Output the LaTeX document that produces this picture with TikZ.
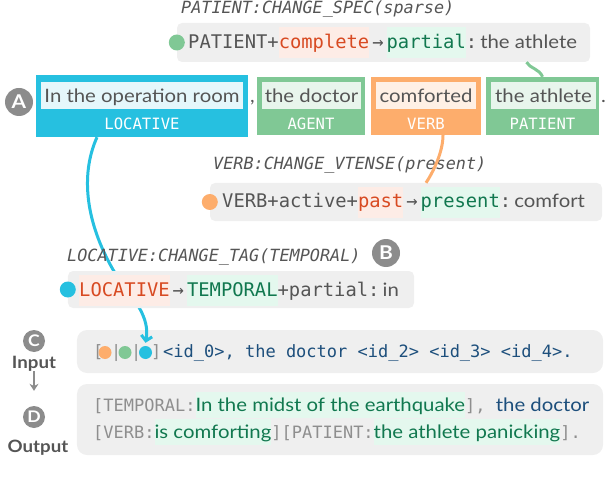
\documentclass[tikz,border=0pt]{standalone}
\usepackage{fontspec}
\setmainfont{Lato}[FakeStretch=1.1]
\setmonofont{DejaVu Sans Mono}
\usetikzlibrary{arrows.meta}

\definecolor{loccol}{HTML}{26C0E0}
\definecolor{agtcol}{HTML}{80C895}
\definecolor{vrbcol}{HTML}{FDAD6C}
\definecolor{boxgray}{HTML}{EFEFEF}
\definecolor{txtgray}{HTML}{555555}
\definecolor{taggray}{HTML}{8E8E8E}
\definecolor{badgegray}{HTML}{8C8C8C}
\definecolor{delred}{HTML}{D84A22}
\definecolor{delbg}{HTML}{FDECE6}
\definecolor{addgreen}{HTML}{11784F}
\definecolor{addbg}{HTML}{E4F8EE}
\definecolor{idblue}{HTML}{1D4F7C}

\newcommand{\hldel}[1]{{\setlength{\fboxsep}{0pt}\colorbox{delbg}{\rule[-10bp]{0pt}{31bp}\textcolor{delred}{#1}}}}
\newcommand{\hladd}[1]{{\setlength{\fboxsep}{0pt}\colorbox{addbg}{\rule[-10bp]{0pt}{31bp}\textcolor{addgreen}{#1}}}}
\newcommand{\hlout}[1]{{\setlength{\fboxsep}{0pt}\colorbox{addbg}{\rule[-7bp]{0pt}{26bp}\textcolor{addgreen}{#1}}}}
\newcommand{\tarr}{\hspace{3bp}→\hspace{3bp}}

\tikzset{
  editbox/.style={fill=boxgray, rounded corners=5bp, inner sep=0pt},
  rowtext/.style={anchor=base west, inner sep=0pt, text=txtgray, font=\fontsize{18.8bp}{22bp}\ttfamily},
  oplabel/.style={anchor=base west, inner sep=0pt, text=txtgray, font=\fontsize{16.8bp}{20bp}\ttfamily\itshape},
  dot/.style={circle, inner sep=0pt, minimum size=16bp},
  smalldot/.style={circle, inner sep=0pt, minimum size=13bp},
  badge/.style={circle, fill=badgegray, text=white, inner sep=0pt, minimum size=28bp, font=\fontsize{19bp}{20bp}\selectfont\bfseries},
  smallbadge/.style={badge, minimum size=22bp, font=\fontsize{16bp}{18bp}\selectfont\bfseries},
  rolebox/.style={inner sep=0pt, minimum height=58bp},
  wordbox/.style={inner sep=0pt, minimum height=27bp, text height=19bp, text depth=4bp, text=txtgray, font=\fontsize{18.5bp}{22bp}\selectfont},
  rolelabel/.style={anchor=base, inner sep=0pt, text=white, font=\fontsize{15.6bp}{18bp}\ttfamily},
  intext/.style={anchor=base west, inner sep=0pt, font=\fontsize{17bp}{20bp}\ttfamily},
  sidelabel/.style={anchor=base, inner sep=0pt, text=txtgray, font=\fontsize{17bp}{19bp}\selectfont\bfseries},
  link/.style={line width=3bp}
}

\begin{document}
\begin{tikzpicture}[x=1bp,y=-1bp]
\useasboundingbox (0,0) rectangle (606,490);

% input and output
\node[editbox, rounded corners=10bp, minimum width=526bp, minimum height=43bp] (inbox) at (340,351.5) {};
\node[editbox, rounded corners=10bp, minimum width=526bp, minimum height=71bp] (outbox) at (340,419.5) {};
\node[intext, text=taggray] (inbra) at (93,357) {[};
\node[intext, text=taggray] (inbar1) at (111,357) {|};
\node[intext, text=taggray] (inbar2) at (131,357) {|};
\node[intext, text=taggray] (inket) at (151,357) {]};
\node[smalldot, fill=vrbcol] (inverb) at (105,352.5) {};
\node[smalldot, fill=agtcol] (inpat) at (125,352.5) {};
\node[smalldot, fill=loccol] (inloc) at (145.5,352.5) {};
\node[intext, text=idblue] (intok) at (163,357) {<id\_0>, the doctor <id\_2> <id\_3> <id\_4>.};
\node[intext, text=taggray] (out1) at (93,411) {[TEMPORAL:\hlout{\rmfamily\fontsize{18.5bp}{22bp}\selectfont In the midst of the earthquake}],\ {\rmfamily\fontsize{18.5bp}{22bp}\selectfont\color{idblue}the doctor}};
\node[intext, text=taggray] (out2) at (93,438) {[VERB:\hlout{\rmfamily\fontsize{18.5bp}{22bp}\selectfont is comforting}][PATIENT:\hlout{\rmfamily\fontsize{18.5bp}{22bp}\selectfont the athlete panicking}].};

% role boxes
\node[rolebox, fill=loccol, minimum width=212bp, minimum height=62bp] (loc) at (142,106) {};
\node[wordbox, fill=loccol!12!white, minimum width=202bp] (locw) at (142,95.5) {In the operation room};
\node[rolelabel] (locl) at (142,130) {LOCATIVE};
\node[wordbox, anchor=base, text=txtgray] (comma) at (252.5,103) {,};
\node[rolebox, fill=agtcol, minimum width=108bp] (agt) at (311,106) {};
\node[wordbox, fill=agtcol!18!white, minimum width=99bp] (agtw) at (311.5,95.5) {the doctor};
\node[rolelabel] (agtl) at (311,130) {AGENT};
\node[rolebox, fill=vrbcol, minimum width=110bp] (verb) at (426,106) {};
\node[wordbox, fill=vrbcol!18!white, minimum width=100bp] (verbw) at (426,95.5) {comforted};
\node[rolelabel] (verbl) at (426,130) {VERB};
\node[rolebox, fill=agtcol, minimum width=113bp] (pat) at (542.5,106) {};
\node[wordbox, fill=agtcol!18!white, minimum width=105bp] (patw) at (543.5,95.5) {the athlete};
\node[rolelabel] (patl) at (542.5,130) {PATIENT};
\node[wordbox, anchor=base] (stop) at (603.5,103) {.};
\node[badge] (A) at (19,102) {A};

% locative link, behind its edit box
\draw[link, loccol, -{Straight Barb[length=5bp,width=11bp]}] ([xshift=-45bp]loc.south)
   .. controls (80,175) and (85,225) .. (118,278)
   .. controls (135,300) and (150,318) .. ([yshift=3bp]inloc.north);

% edit operations
\node[oplabel] (plab) at (181,13.5) {PATIENT:CHANGE\_SPEC(sparse)};
\node[editbox, minimum width=413bp, minimum height=39bp] (pbox) at (383.5,42.5) {};
\node[dot, fill=agtcol] (pdot) at (pbox.west) {};
\node[rowtext] (ptext) at (188,48.5) {PATIENT+\hldel{complete}\tarr\hladd{partial}:\,{\rmfamily\fontsize{18.5bp}{22bp}\selectfont the athlete}};

\node[oplabel] (vlab) at (213,170) {VERB:CHANGE\_VTENSE(present)};
\node[editbox, minimum width=392bp, minimum height=38bp] (vbox) at (406,202) {};
\node[dot, fill=vrbcol] (vdot) at (vbox.west) {};
\node[rowtext] (vtext) at (222,208) {VERB+active+\hldel{past}\tarr\hladd{present}:\,{\rmfamily\fontsize{18.5bp}{22bp}\selectfont comfort}};

\node[oplabel] (llab) at (67,261) {LOCATIVE:CHANGE\_TAG(TEMPORAL)};
\node[badge] (B) at (386,253) {B};
\node[editbox, minimum width=346bp, minimum height=37bp] (lbox) at (241,289.5) {};
\node[dot, fill=loccol] (ldot) at (lbox.west) {};
\node[rowtext] (ltext) at (79,296) {\hldel{LOCATIVE}\tarr\hladd{TEMPORAL}+partial:\,{\rmfamily\fontsize{18.5bp}{22bp}\selectfont in}};

% links from the roles
\draw[link, agtcol] (pat.north) .. controls +(-3,-8) and +(3,6) .. ([xshift=143bp]pbox.south);
\draw[link, vrbcol] ([xshift=17bp]verb.south) .. controls +(0,16) and +(8,-12) .. ([xshift=20bp]vbox.north);

% input / output side
\node[smallbadge] (C) at (34,341) {C};
\node[sidelabel] (inlab) at (34,368) {Input};
\node[smallbadge] (D) at (34,417) {D};
\node[sidelabel] (outlab) at (38,452) {Output};
\draw[line width=2bp, badgegray, -{Stealth[length=7bp,width=9bp]}, shorten >=15bp] (inlab.south) -- (D.north);
\end{tikzpicture}
\end{document}
